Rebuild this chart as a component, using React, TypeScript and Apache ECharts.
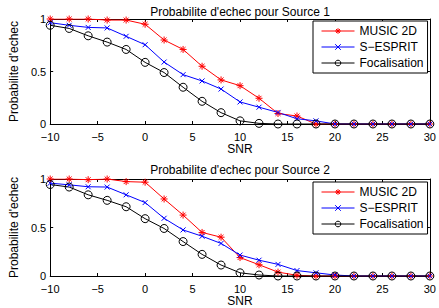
import React, { useEffect, useRef } from "react";
import * as echarts from "echarts";

// SNR grid (dB) shared by both panels
const snr = [-10, -8, -6, -4, -2, 0, 2, 4, 6, 8, 10, 12, 14, 16, 18, 20, 22, 24, 26, 28, 30];

// Source 1 failure probabilities
const music1 = [1, 1, 1, 0.99, 0.99, 0.95, 0.8, 0.71, 0.55, 0.42, 0.365, 0.245, 0.1, 0.076, 0, 0, 0, 0, 0, 0, 0];
const esprit1 = [0.965, 0.94, 0.92, 0.915, 0.835, 0.755, 0.59, 0.47, 0.41, 0.333, 0.21, 0.16, 0.11, 0.05, 0.03, 0, 0, 0, 0, 0, 0];
const focal1 = [0.94, 0.91, 0.84, 0.78, 0.71, 0.587, 0.49, 0.35, 0.216, 0.108, 0.03, 0.006, 0, 0, 0, 0, 0, 0, 0, 0, 0];

// Source 2 failure probabilities
const music2 = [1, 1, 0.993, 1, 0.973, 0.967, 0.794, 0.628, 0.449, 0.4, 0.19, 0.116, 0.04, 0.007, 0, 0, 0, 0, 0, 0, 0];
const esprit2 = [0.957, 0.94, 0.92, 0.917, 0.837, 0.757, 0.595, 0.475, 0.41, 0.336, 0.216, 0.163, 0.12, 0.056, 0.033, 0.01, 0, 0, 0, 0, 0];
const focal2 = [0.943, 0.917, 0.837, 0.78, 0.714, 0.591, 0.49, 0.355, 0.223, 0.113, 0.033, 0.01, 0, 0, 0, 0, 0, 0, 0, 0, 0];

const seriesNames = ["MUSIC 2D", "S\u2212ESPRIT", "Focalisation"];
const titles = ["Probabilite d'echec pour Source 1", "Probabilite d'echec pour Source 2"];
const yTicks = [0, 0.5, 1];

const FONT = "'Liberation Sans', Arial, sans-serif";
const FS = 12;
const TICK_FS = 11;
const ASTERISK = "path://M5,0L5,10M0,5L10,5M1.5,1.5L8.5,8.5M8.5,1.5L1.5,8.5";
const CROSS = "path://M0,0L10,10M10,0L0,10";

const pairs = (ys: number[]) => snr.map((x, i) => [x, ys[i]]);

export default function App() {
  const ref = useRef<HTMLDivElement>(null);

  useEffect(() => {
    if (!ref.current) return;
    const chart = echarts.init(ref.current, undefined, { renderer: "svg" });

    const grids = [
      { left: 37, right: 6, top: 19, height: 105 },
      { left: 37, right: 6, top: 179, height: 100 },
    ];

    const tickStyle = { show: true, inside: true, length: 3, lineStyle: { color: "#000", width: 1 } };
    const lineStyle = { show: true, onZero: false, lineStyle: { color: "#000", width: 1 } };
    const labelStyle = { color: "#000", fontSize: FS, fontFamily: FONT };
    const tickLabelStyle = { color: "#000", fontSize: TICK_FS, fontFamily: FONT };

    const xAxes: any[] = [];
    const yAxes: any[] = [];
    grids.forEach((_, g) => {
      xAxes.push({
        type: "value", gridIndex: g, position: "bottom", min: -10, max: 30, interval: 5,
        axisLine: lineStyle, axisTick: tickStyle, splitLine: { show: false },
        axisLabel: {
          ...tickLabelStyle, margin: 7,
          formatter: (v: number) => (v < 0 ? "\u2212" + Math.abs(v) : String(v)),
        },
        name: "SNR", nameLocation: "middle", nameGap: 19,
        nameTextStyle: { ...labelStyle },
      });
      xAxes.push({
        type: "value", gridIndex: g, position: "top", min: -10, max: 30, interval: 5,
        axisLine: lineStyle, axisTick: tickStyle, splitLine: { show: false }, axisLabel: { show: false },
      });
      yAxes.push({
        type: "value", gridIndex: g, position: "left", min: 0, max: 1, interval: 0.5,
        axisLine: lineStyle, axisTick: tickStyle, splitLine: { show: false },
        axisLabel: {
          ...tickLabelStyle, margin: 4,
          formatter: (v: number) => (yTicks.includes(v) ? String(v) : ""),
        },
        name: "Probabilite d'echec", nameLocation: "middle", nameGap: 26, nameRotate: 90,
        nameTextStyle: { ...labelStyle },
      });
      yAxes.push({
        type: "value", gridIndex: g, position: "right", min: 0, max: 1, interval: 0.5,
        axisLine: lineStyle, axisTick: tickStyle, splitLine: { show: false }, axisLabel: { show: false },
      });
    });

    const panels = [
      [music1, esprit1, focal1],
      [music2, esprit2, focal2],
    ];
    const styles = [
      { color: "#ff0000", symbol: ASTERISK, size: 7 },
      { color: "#0000ff", symbol: CROSS, size: 5 },
      { color: "#000000", symbol: "circle", size: 8 },
    ];

    const series: any[] = [];
    panels.forEach((vals, g) => {
      vals.forEach((ys, k) => {
        const st = styles[k];
        series.push({
          type: "line",
          name: seriesNames[k],
          xAxisIndex: g * 2,
          yAxisIndex: g * 2,
          data: pairs(ys),
          symbol: st.symbol,
          symbolSize: st.size,
          showAllSymbol: true,
          lineStyle: { color: st.color, width: 1 },
          itemStyle: {
            color: k === 2 ? "rgba(0,0,0,0)" : st.color,
            borderColor: st.color,
            borderWidth: 1,
          },
          emphasis: { disabled: true },
        });
      });
    });

    const legendBase = {
      orient: "vertical",
      left: 313,
      width: 112,
      itemWidth: 33,
      itemHeight: 7,
      itemGap: 4,
      padding: [4, 4, 4, 8],
      borderColor: "#000",
      borderWidth: 1,
      backgroundColor: "#fff",
      lineStyle: { width: 1 },
      itemStyle: { borderWidth: 1 },
      textStyle: { color: "#000", fontSize: FS, fontFamily: FONT },
      data: seriesNames,
      selectedMode: false,
    };

    chart.setOption({
      animation: false,
      backgroundColor: "#fff",
      title: titles.map((t, i) => ({
        text: t,
        left: 235,
        top: i === 0 ? 1 : 159,
        textAlign: "center",
        textStyle: { color: "#000", fontSize: FS, fontWeight: "normal", fontFamily: FONT },
      })),
      grid: grids,
      xAxis: xAxes,
      yAxis: yAxes,
      legend: [
        { ...legendBase, top: 21 },
        { ...legendBase, top: 182 },
      ],
      series,
    });

    return () => chart.dispose();
  }, []);

  return (
    <div
      ref={ref}
      style={{ position: "fixed", left: 0, top: 0, width: 439, height: 308, background: "#fff" }}
    />
  );
}
